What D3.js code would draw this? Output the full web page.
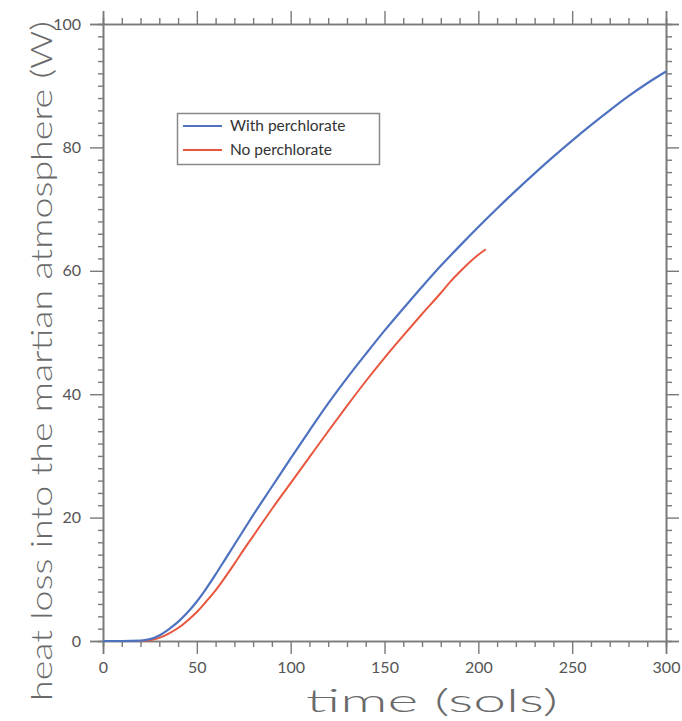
<!DOCTYPE html>
<html>
<head>
<meta charset="utf-8">
<script src="https://cdn.jsdelivr.net/npm/d3@7"></script>
<style>
  body { margin: 0; background: #fff; }
  text { font-family: Lato, "DejaVu Sans", sans-serif; }
</style>
</head>
<body>
<div class="chart"></div>
<script>
// heat loss into the martian atmosphere vs time
var series = ["With perchlorate", "No perchlorate"];
var color = ["#4f72c0", "#e8573d"];

var t_with = [0, 10, 20, 25, 30, 35, 40, 45, 50, 55, 60, 65, 70, 75, 80, 90, 100, 110, 120, 130, 140, 150, 160, 170, 180, 190, 200, 210, 220, 230, 240, 250, 260, 270, 280, 290, 300];
var v_with = [0, 0, 0.05, 0.3, 0.9, 1.9, 3.1, 4.6, 6.4, 8.5, 10.8, 13.2, 15.6, 18.0, 20.4, 25.0, 29.6, 34.1, 38.5, 42.6, 46.5, 50.3, 53.9, 57.4, 60.8, 64.0, 67.1, 70.1, 73.0, 75.8, 78.5, 81.1, 83.6, 86.0, 88.3, 90.4, 92.3];

var t_no = [0, 10, 20, 25, 30, 35, 40, 45, 50, 55, 60, 65, 70, 75, 80, 90, 100, 110, 120, 130, 140, 150, 160, 170, 180, 185, 190, 200, 204];
var v_no = [0, 0, 0, 0.1, 0.5, 1.2, 2.1, 3.3, 4.7, 6.4, 8.2, 10.3, 12.5, 14.8, 17.0, 21.4, 25.6, 29.8, 34.0, 38.1, 42.1, 45.9, 49.5, 53.0, 56.4, 58.2, 59.8, 62.6, 63.5];

var x_major = [0, 50, 100, 150, 200, 250, 300];
var y_major = [0, 20, 40, 60, 80, 100];

var x_minor = d3.range(0, 301, 10).filter(function(d) { return d % 50 != 0; });
var y_minor = d3.range(0, 101, 2).filter(function(d) { return d % 20 != 0; });

var svg = d3.select(".chart")
            .append("svg")
            .attr("width", 682)
            .attr("height", 721);

var x = d3.scaleLinear().domain([0, 300]).range([103, 666]);
var y = d3.scaleLinear().domain([0, 100]).range([641, 24]);

var axisColor = "#7a7a7a";

function styleAxis(g) {
    g.select(".domain").attr("stroke", axisColor).attr("stroke-width", 1.6);
    g.selectAll(".tick line").attr("stroke", axisColor).attr("stroke-width", 1.4);
    g.selectAll(".tick text")
        .attr("fill", "#555")
        .style("font-size", "16px");
}

// bottom
svg.append("g").attr("transform", "translate(0,641)")
    .call(d3.axisBottom(x).tickValues(x_minor).tickSize(6).tickFormat(""))
    .call(styleAxis);
svg.append("g").attr("transform", "translate(0,641)")
    .call(d3.axisBottom(x).tickValues(x_major).tickSize(13).tickPadding(8).tickFormat(d3.format("d")))
    .call(styleAxis);

// top
svg.append("g").attr("transform", "translate(0,24)")
    .call(d3.axisTop(x).tickValues(x_minor).tickSize(6).tickFormat(""))
    .call(styleAxis);
svg.append("g").attr("transform", "translate(0,24)")
    .call(d3.axisTop(x).tickValues(x_major).tickSize(13).tickFormat(""))
    .call(styleAxis);

// left
svg.append("g").attr("transform", "translate(103,0)")
    .call(d3.axisLeft(y).tickValues(y_minor).tickSize(5).tickFormat(""))
    .call(styleAxis);
svg.append("g").attr("transform", "translate(103,0)")
    .call(d3.axisLeft(y).tickValues(y_major).tickSize(13).tickPadding(9).tickFormat(d3.format("d")))
    .call(styleAxis);

// right
svg.append("g").attr("transform", "translate(666,0)")
    .call(d3.axisRight(y).tickValues(y_minor).tickSize(6).tickFormat(""))
    .call(styleAxis);
svg.append("g").attr("transform", "translate(666,0)")
    .call(d3.axisRight(y).tickValues(y_major).tickSize(13).tickFormat(""))
    .call(styleAxis);

// curves
var line = d3.line()
    .x(function(d) { return x(d[0]); })
    .y(function(d) { return y(d[1]); })
    .curve(d3.curveMonotoneX);

svg.append("path")
    .datum(d3.zip(t_no, v_no))
    .attr("d", line)
    .attr("fill", "none")
    .attr("stroke", color[1])
    .attr("stroke-width", 2);

svg.append("path")
    .datum(d3.zip(t_with, v_with))
    .attr("d", line)
    .attr("fill", "none")
    .attr("stroke", color[0])
    .attr("stroke-width", 2.2);

// legend
svg.append("rect")
    .attr("x", 177.5)
    .attr("y", 113.5)
    .attr("width", 202)
    .attr("height", 51)
    .attr("fill", "#fff")
    .attr("stroke", "#888")
    .attr("stroke-width", 1.5);

for (var i = 0; i < 2; i++) {
    svg.append("line")
        .attr("x1", 183)
        .attr("y1", 126 + i * 24)
        .attr("x2", 222)
        .attr("y2", 126 + i * 24)
        .attr("stroke", color[i])
        .attr("stroke-width", 2);

    svg.append("text")
        .attr("x", 230)
        .attr("y", 131 + i * 24)
        .text(series[i])
        .style("font-size", "15.5px")
        .attr("fill", "#333");
}

// titles
svg.append("text")
    .attr("x", 432)
    .attr("y", 712)
    .attr("text-anchor", "middle")
    .attr("textLength", 252)
    .attr("lengthAdjust", "spacingAndGlyphs")
    .text("time (sols)")
    .style("font-size", "31px")
    .style("font-weight", 300)
    .attr("fill", "#6a6a6a");

svg.append("text")
    .attr("transform", "translate(52,361) rotate(-90)")
    .attr("text-anchor", "middle")
    .attr("textLength", 680)
    .attr("lengthAdjust", "spacingAndGlyphs")
    .text("heat loss into the martian atmosphere (W)")
    .style("font-size", "29px")
    .style("font-weight", 300)
    .attr("fill", "#6a6a6a");
</script>
</body>
</html>
